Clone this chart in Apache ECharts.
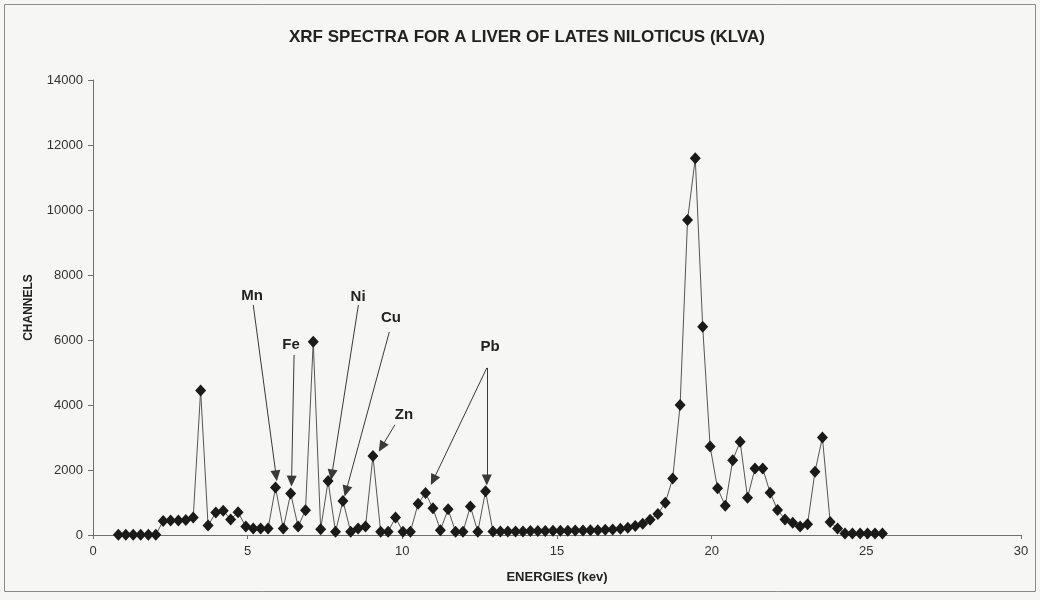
<!DOCTYPE html>
<html>
<head>
<meta charset="utf-8">
<script src="https://cdn.jsdelivr.net/npm/echarts@6/dist/echarts.min.js"></script>
<style>
  html, body { margin: 0; padding: 0; background: #f6f6f4; }
  #chart { width: 1040px; height: 600px; }
</style>
</head>
<body>
<div id="chart"></div>
<script>
// XRF spectrum: photon energy (keV) against counts per channel
const energies = [
  0.82, 1.06, 1.30, 1.54, 1.79, 2.03, 2.27, 2.51, 2.76, 3.00,
  3.24, 3.48, 3.72, 3.97, 4.21, 4.45, 4.69, 4.94, 5.18, 5.42,
  5.66, 5.90, 6.15, 6.39, 6.63, 6.87, 7.12, 7.36, 7.60, 7.84,
  8.08, 8.33, 8.57, 8.81, 9.05, 9.30, 9.54, 9.78, 10.02, 10.26,
  10.51, 10.75, 10.99, 11.23, 11.48, 11.72, 11.96, 12.20, 12.44, 12.69,
  12.93, 13.17, 13.41, 13.66, 13.90, 14.14, 14.38, 14.62, 14.87, 15.11,
  15.35, 15.59, 15.84, 16.08, 16.32, 16.56, 16.80, 17.05, 17.29, 17.53,
  17.77, 18.01, 18.26, 18.50, 18.74, 18.98, 19.22, 19.47, 19.71, 19.95,
  20.19, 20.44, 20.68, 20.92, 21.16, 21.40, 21.65, 21.89, 22.13, 22.37,
  22.62, 22.86, 23.10, 23.34, 23.58, 23.83, 24.07, 24.31, 24.55, 24.80,
  25.04, 25.28, 25.52
];
const channels = [
  10, 10, 10, 10, 10, 10, 430, 450, 450, 460,
  540, 4450, 290, 690, 750, 480, 700, 260, 200, 200,
  200, 1460, 200, 1280, 260, 760, 5950, 180, 1660, 100,
  1050, 100, 200, 260, 2430, 100, 100, 540, 100, 100,
  960, 1290, 820, 150, 790, 100, 100, 880, 100, 1350,
  110, 110, 110, 110, 110, 120, 120, 120, 130, 130,
  130, 140, 140, 150, 150, 160, 170, 190, 220, 280,
  350, 470, 650, 990, 1740, 4000, 9690, 11590, 6410, 2720,
  1440, 900, 2300, 2870, 1150, 2050, 2050, 1300, 770, 480,
  380, 260, 330, 1950, 3000, 400, 200, 50, 50, 50,
  50, 50, 50
];

// Element labels and their pointer lines, in axis units (keV, channels)
const elementNames = ['Mn', 'Fe', 'Ni', 'Cu', 'Zn', 'Pb'];
const labelAt = [
  [5.14, 7350], [6.40, 5850], [8.57, 7330], [9.63, 6680], [10.05, 3700], [12.84, 5790]
];
const pointerFrom = [
  [5.18, 7080], [6.50, 5540], [8.58, 7080], [9.58, 6250], [9.76, 3390], [12.73, 5140], [12.73, 5140]
];
const pointerTo = [
  [5.92, 1820], [6.42, 1660], [7.72, 1850], [8.18, 1350], [9.33, 2710], [11.00, 1690], [12.73, 1690]
];

const xMin = 0, xMax = 30, xStep = 5;
const yMin = 0, yMax = 14000, yStep = 2000;

const chart = echarts.init(document.getElementById('chart'), null, { renderer: 'canvas' });

const spectrum = energies.map((e, i) => [e, channels[i]]);
const pointers = pointerFrom.map((p, i) => [{ coord: p }, { coord: pointerTo[i] }]);
const labels = elementNames.map((n, i) => ({ name: n, value: labelAt[i] }));

const font = 'Liberation Sans, Arial, sans-serif';
const ink = '#222';

chart.setOption({
  animation: false,
  backgroundColor: '#f6f6f4',
  textStyle: { fontFamily: font },
  title: {
    text: 'XRF SPECTRA FOR A LIVER OF LATES NILOTICUS (KLVA)',
    left: 522, top: 24, textAlign: 'center',
    textStyle: { fontFamily: font, fontSize: 17, fontWeight: 'bold', color: ink }
  },
  graphic: [{
    type: 'rect',
    shape: { x: 4.5, y: 4.5, width: 1031, height: 587 },
    style: { fill: 'none', stroke: '#8c8c8c', lineWidth: 1 },
    silent: true
  }],
  grid: { left: 93, right: 19, top: 80, bottom: 65 },
  xAxis: {
    type: 'value', min: xMin, max: xMax, interval: xStep,
    name: 'ENERGIES (kev)', nameLocation: 'middle', nameGap: 36,
    nameTextStyle: { fontFamily: font, fontSize: 13, fontWeight: 'bold', color: ink },
    axisLine: { show: true, lineStyle: { color: '#6f6f6f', width: 1 } },
    axisTick: { show: true, length: 4, lineStyle: { color: '#6f6f6f' } },
    axisLabel: { fontSize: 13, color: '#333', margin: 10 },
    splitLine: { show: false }
  },
  yAxis: {
    type: 'value', min: yMin, max: yMax, interval: yStep,
    name: 'CHANNELS', nameLocation: 'middle', nameGap: 58, nameRotate: 90,
    nameTextStyle: { fontFamily: font, fontSize: 12, fontWeight: 'bold', color: ink },
    axisLine: { show: true, lineStyle: { color: '#6f6f6f', width: 1 } },
    axisTick: { show: true, length: 5, lineStyle: { color: '#6f6f6f' } },
    axisLabel: { fontSize: 13, color: '#333', margin: 10, formatter: v => String(v) },
    splitLine: { show: false }
  },
  series: [
    {
      type: 'line',
      data: spectrum,
      symbol: 'diamond',
      symbolSize: [11, 12],
      showAllSymbol: true,
      itemStyle: { color: '#1a1a1a' },
      lineStyle: { color: '#555', width: 1 },
      z: 3
    },
    {
      type: 'line',
      data: [],
      markLine: {
        silent: true,
        animation: false,
        symbol: ['none', 'triangle'],
        symbolSize: [10, 11],
        label: { show: false },
        lineStyle: { color: '#3a3a3a', width: 1, type: 'solid' },
        itemStyle: { color: '#2a2a2a' },
        emphasis: { disabled: true },
        data: pointers
      },
      z: 4
    },
    {
      type: 'scatter',
      data: labels,
      symbolSize: 1,
      itemStyle: { color: 'transparent' },
      emphasis: { disabled: true },
      label: {
        show: true, position: 'inside',
        formatter: p => p.name,
        fontFamily: font, fontSize: 15, fontWeight: 'bold',
        color: ink, textBorderWidth: 0, opacity: 1
      },
      z: 5
    }
  ]
});
</script>
</body>
</html>
